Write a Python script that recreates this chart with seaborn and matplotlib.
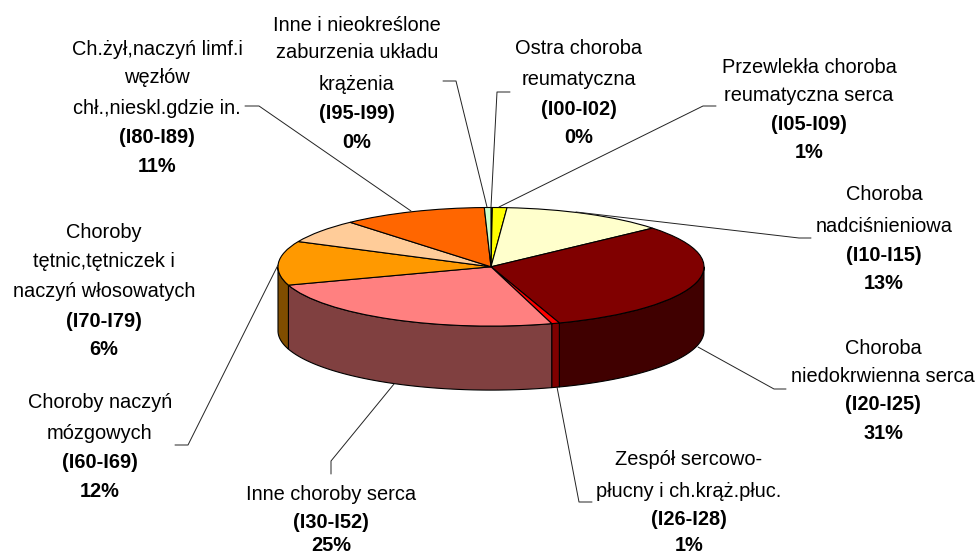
import numpy as np
import matplotlib
matplotlib.use("Agg")
import matplotlib.pyplot as plt
import seaborn as sns

# data, clockwise from the top of the pie
codes = ['(I00-I02)', '(I05-I09)', '(I10-I15)', '(I20-I25)', '(I26-I28)',
         '(I30-I52)', '(I60-I69)', '(I70-I79)', '(I80-I89)', '(I95-I99)']
names = [
    ['Ostra choroba', 'reumatyczna'],
    ['Przewlekła choroba', 'reumatyczna serca'],
    ['Choroba', 'nadciśnieniowa'],
    ['Choroba', 'niedokrwienna serca'],
    ['Zespół sercowo-', 'płucny i ch.krąż.płuc.'],
    ['Inne choroby serca'],
    ['Choroby naczyń', 'mózgowych'],
    ['Choroby', 'tętnic,tętniczek i', 'naczyń włosowatych'],
    ['Ch.żył,naczyń limf.i', 'węzłów', 'chł.,nieskl.gdzie in.'],
    ['Inne i nieokreślone', 'zaburzenia układu', 'krążenia'],
]
shares = [0.1, 1.1, 12.5, 31.1, 0.6, 24.6, 12.0, 6.5, 11.0, 0.5]
shown_pct = ['0%', '1%', '13%', '31%', '1%', '25%', '12%', '6%', '11%', '0%']
top_colors = ['#CCFFFF', '#FFFF00', '#FFFFCC', '#800000', '#FF0000',
              '#FF8080', '#FF9900', '#FFCC99', '#FF6600', '#CCFFCC']
side_colors = ['#668080', '#808000', '#808066', '#400000', '#800000',
               '#804040', '#804D00', '#80664D', '#803300', '#668066']

# layout, in pixels of the picture
W, H = 979, 556
CX, CY, RX, RY, DEPTH = 491, 266.8, 213, 59.3, 64
label_x = [579, 809, 884, 883, 689, 331, 100, 104, 157, 357]
label_base = [
    [54, 85, 115, 143],
    [73, 101, 130, 158],
    [200, 232, 261, 289],
    [354, 382, 410, 439],
    [465, 497, 525, 551],
    [500, 528, 551],
    [408, 439, 468, 497],
    [238, 267, 297, 327, 355],
    [55, 83, 114, 143, 172],
    [31, 58, 90, 119, 148],
]
leaders = [
    [(510, 92), (497, 92), (491, 207)],
    [(716, 106), (703, 106), (499, 207)],
    [(811, 238), (799, 238), (576, 212)],
    [(786, 389), (774, 389), (698, 347)],
    [(592, 502), (579, 502), (557, 387)],
    [(331, 474), (331, 461), (394, 384)],
    [(175, 445), (188, 445), (278, 265)],
    [(245, 106), (259, 106), (411, 211)],
    [(443, 81), (456, 81), (487, 207)],
]

sns.set_theme(style="white")
plt.rcParams['font.family'] = ['Liberation Sans', 'DejaVu Sans']

fig = plt.figure(figsize=(W / 100, H / 100), dpi=100)
ax = fig.add_axes([0, 0, 1, 1])

# side wall first, only the part of each slice that faces the viewer
edges = np.concatenate([[0], np.cumsum(shares)]) * 360 / sum(shares)
depth = DEPTH / RY
for i in range(len(shares)):
    a0, a1 = max(edges[i], 90), min(edges[i + 1], 270)
    if a1 <= a0:
        continue
    t = np.radians(np.linspace(a0, a1, 80))
    xs = np.concatenate([np.sin(t), np.sin(t)[::-1]])
    ys = np.concatenate([np.cos(t), np.cos(t)[::-1] - depth])
    ax.fill(xs, ys, facecolor=side_colors[i], edgecolor='black', linewidth=0.8)

# top of the pie, squashed to an ellipse by the axes limits
ax.pie(shares, colors=sns.color_palette(top_colors), startangle=90, counterclock=False,
       radius=1, wedgeprops={'edgecolor': 'black', 'linewidth': 0.8})
ax.set_aspect('auto')
ax.set_xlim(-CX / RX, (W - CX) / RX)
ax.set_ylim((CY - H) / RY, CY / RY)
ax.axis('off')

# labels and leader lines on top, in pixel coordinates
over = fig.add_axes([0, 0, 1, 1], zorder=5)
over.set_xlim(0, W)
over.set_ylim(H, 0)
over.axis('off')
over.patch.set_alpha(0)

for pts in leaders:
    over.plot([p[0] for p in pts], [p[1] for p in pts], color='#222222', lw=0.7)

for i in range(len(codes)):
    lines = names[i] + [codes[i], shown_pct[i]]
    for j, line in enumerate(lines):
        bold = j >= len(names[i])
        over.text(label_x[i], label_base[i][j], line, ha='center', va='baseline',
                  fontsize=14.4, color='black', fontweight='bold' if bold else 'normal')

plt.savefig('out.png', dpi=100)
